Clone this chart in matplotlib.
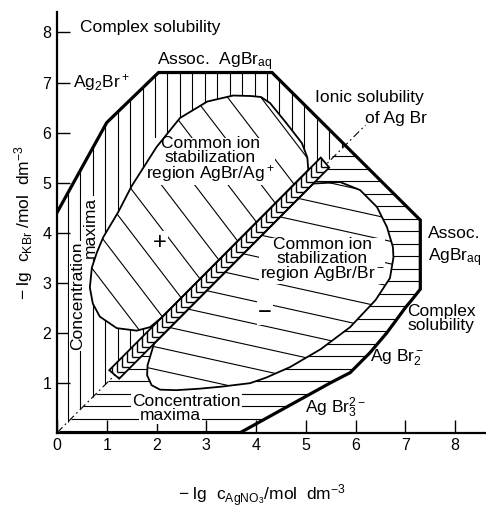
import numpy as np
import matplotlib
matplotlib.use('Agg')
import matplotlib.pyplot as plt
from matplotlib.patches import Polygon
from matplotlib.collections import LineCollection

plt.rcParams['font.family'] = ['Liberation Sans', 'DejaVu Sans']
plt.rcParams['mathtext.fontset'] = 'custom'
plt.rcParams['mathtext.rm'] = 'Liberation Sans'
plt.rcParams['mathtext.it'] = 'Liberation Sans:italic'
plt.rcParams['mathtext.bf'] = 'Liberation Sans:bold'

# --- data (x = -lg c_AgNO3, y = -lg c_KBr) ---
outer_x = [0, 0, 1.0, 2.04, 4.32, 7.3, 7.3, 7.15, 7.0, 6.63, 6.29, 5.89, 5.5, 3.68]
outer_y = [0, 4.4, 6.2, 7.2, 7.2, 4.25, 2.87, 2.68, 2.5, 2.0, 1.6, 1.2, 1.0, 0]

# common ion region AgBr/Ag+ (closed along the band)
upper_x = [2.1, 1.87, 1.6, 1.2, 0.86, 0.72, 0.66, 0.7, 0.8, 0.93, 1.23, 1.5,
           2.0, 2.47, 3.02, 3.54, 3.9, 4.1, 4.28, 4.6, 4.92, 5.03, 5.05]
upper_y = [2.3, 2.11, 2.04, 2.09, 2.32, 2.58, 2.9, 3.3, 3.6, 3.91, 4.41, 4.93,
           5.71, 6.29, 6.62, 6.74, 6.73, 6.71, 6.59, 6.2, 5.79, 5.5, 5.25]

# common ion region AgBr/Br-
lower_x = [5.15, 5.69, 6.09, 6.43, 6.63, 6.75, 6.76, 6.69, 6.4, 5.89, 5.3, 4.68,
           4.2, 3.88, 3.3, 2.87, 2.4, 2.07, 1.9, 1.81, 1.82, 1.88, 1.95]
lower_y = [4.98, 5.01, 4.85, 4.51, 4.11, 3.71, 3.5, 3.09, 2.65, 2.11, 1.67, 1.31,
           1.1, 0.99, 0.92, 0.88, 0.85, 0.86, 0.95, 1.15, 1.35, 1.55, 1.78]

# ionic solubility band along the diagonal
band_x = [1.05, 5.3, 5.47, 1.25]
band_y = [1.25, 5.5, 5.3, 1.08]
band_mid = 0.02

diag_x = [0, 6.2]
diag_y = [0, 6.15]

ticks_x = [0, 1, 2, 3, 4, 5, 6, 7, 8]
ticks_y = [1, 2, 3, 4, 5, 6, 7, 8]

fig = plt.figure(figsize=(4.86, 5.12), dpi=100)
ax = fig.add_axes([0.1173, 0.1549, 0.8827, 0.8217])
ax.set_xlim(0, 8.62)
ax.set_ylim(0, 8.41)

FS = 12.5
HLW = 0.8

# outer region: vertical hatch above the diagonal, horizontal below
outer = Polygon(list(zip(outer_x, outer_y)), closed=True, fc='none', ec='none')
ax.add_patch(outer)
segs = [((c, c), (c, 9)) for c in np.arange(0.22, 8.0, 0.25)]
segs += [((c, c), (9, c)) for c in np.arange(0.03, 8.0, 0.25)]
lc = LineCollection(segs, colors='k', linewidths=HLW, zorder=1)
ax.add_collection(lc)
lc.set_clip_path(outer)

ax.plot(diag_x, diag_y, color='k', lw=0.8, ls=(0, (7, 3, 1.5, 3)), zorder=1.5)

# white fills for the inner regions
up_fill = Polygon(list(zip(upper_x, upper_y)), closed=True, fc='white', ec='none', zorder=2)
lo_fill = Polygon(list(zip(lower_x, lower_y)), closed=True, fc='white', ec='none', zorder=2)
bd_fill = Polygon(list(zip(band_x, band_y)), closed=True, fc='white', ec='none', zorder=2)
for p in (up_fill, lo_fill, bd_fill):
    ax.add_patch(p)

# hatching inside the regions
segs = [((0, b), (9, b - 1.3 * 9)) for b in np.arange(4.2, 14, 0.87)]
lc = LineCollection(segs, colors='k', linewidths=HLW, zorder=2.5)
ax.add_collection(lc)
lc.set_clip_path(up_fill)

segs = [((0, b), (9, b - 0.22 * 9)) for b in np.arange(1.7, 7.5, 0.45)]
lc = LineCollection(segs, colors='k', linewidths=HLW, zorder=2.5)
ax.add_collection(lc)
lc.set_clip_path(lo_fill)

cs = np.arange(0.8, 5.8, 0.1)
segs = [((c, c + band_mid), (c, c + 0.5)) for c in cs]
segs += [((c, c + band_mid), (c + 0.5, c + band_mid)) for c in cs]
lc = LineCollection(segs, colors='k', linewidths=1.0, zorder=2.5)
ax.add_collection(lc)
lc.set_clip_path(bd_fill)

# outlines
for xs, ys in ((upper_x, upper_y), (lower_x, lower_y), (band_x, band_y)):
    ax.add_patch(Polygon(list(zip(xs, ys)), closed=True, fc='none', ec='k', lw=1.3, zorder=4))
ax.plot(outer_x[1:], outer_y[1:], color='k', lw=2.3, zorder=4, solid_joinstyle='miter')

# labels
wb = dict(boxstyle='square,pad=0.05', fc='white', ec='none')
txt = dict(fontsize=FS, zorder=3)
ax.text(0.46, 8.09, 'Complex solubility', va='center', ha='left', **txt)
ax.text(0.32, 7.0, r'Ag$_2$Br$^+$', va='center', ha='left', **txt)
ax.text(2.01, 7.41, r'Assoc.  AgBr$_{\mathrm{aq}}$', va='center', ha='left', **txt)
ax.text(5.19, 6.71, 'Ionic solubility', va='center', ha='left', **txt)
ax.text(6.19, 6.29, 'of Ag Br', va='center', ha='left', **txt)
ax.text(3.08, 5.45, 'Common ion\nstabilization\nregion AgBr/Ag$^+$', va='center',
        ha='center', linespacing=0.9, bbox=wb, **txt)
ax.text(2.07, 3.79, '+', va='center', ha='center', fontsize=17, zorder=3, bbox=wb)
ax.text(5.33, 3.45, 'Common ion\nstabilization\nregion AgBr/Br$^-$', va='center',
        ha='center', linespacing=0.9, bbox=wb, **txt)
ax.text(4.18, 2.39, '\u2212', va='center', ha='center', fontsize=17, zorder=3, bbox=wb)
ax.text(7.46, 3.99, 'Assoc.', va='center', ha='left', **txt)
ax.text(7.46, 3.49, r'AgBr$_{\mathrm{aq}}$', va='center', ha='left', **txt)
ax.text(7.72, 2.28, 'Complex\nsolubility', va='center', ha='center', linespacing=0.9, **txt)
ax.text(6.29, 1.49, r'Ag Br$_2^-$', va='center', ha='left', **txt)
ax.text(4.98, 0.49, r'Ag Br$_3^{2-}$', va='center', ha='left', **txt)
ax.text(1.51, 0.62, 'Concentration', va='center', ha='left', bbox=wb, **txt)
ax.text(1.67, 0.35, 'maxima', va='center', ha='left', bbox=wb, **txt)
ax.text(0.41, 2.73, 'Concentration', va='center', ha='center', rotation=90, bbox=wb, **txt)
ax.text(0.66, 4.11, 'maxima', va='center', ha='center', rotation=90, bbox=wb, **txt)

# axes
for s in ('top', 'right'):
    ax.spines[s].set_visible(False)
for s in ('left', 'bottom'):
    ax.spines[s].set_linewidth(1.6)
    ax.spines[s].set_zorder(5)
ax.set_xticks(ticks_x)
ax.set_yticks(ticks_y)
ax.tick_params(direction='in', length=9.5, width=1.0, labelsize=11.5, pad=4)

ax.set_xlabel(r'$-\ \mathrm{lg}\ \ \mathrm{c}_{\mathrm{AgNO_3}}/\mathrm{mol\ \ dm^{-3}}$', fontsize=FS)
ax.xaxis.set_label_coords(0.478, -0.118)
ax.set_ylabel(r'$-\ \mathrm{lg}\ \ \mathrm{c}_{\mathrm{KBr}}\ /\mathrm{mol\ \ dm^{-3}}$', fontsize=FS)
ax.yaxis.set_label_coords(-0.052, 0.5)

fig.savefig('out.png', dpi=100)
